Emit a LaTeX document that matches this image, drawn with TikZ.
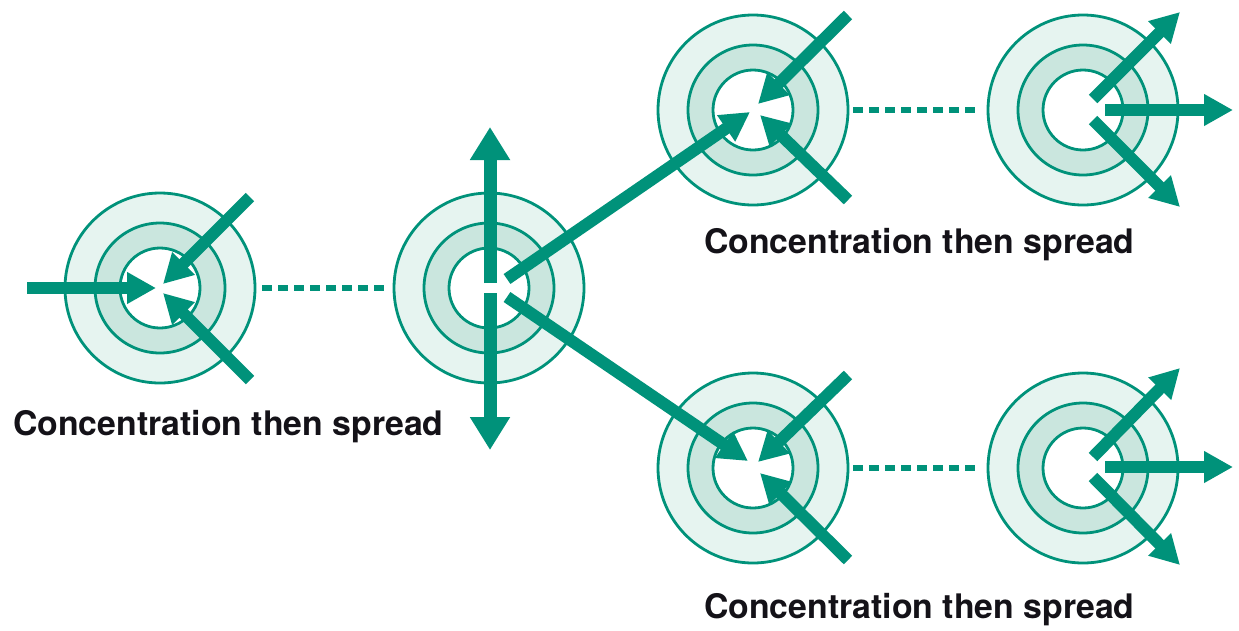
\documentclass[tikz,border=0pt]{standalone}
\usepackage{fontspec}
\setmainfont{TeX Gyre Heros}
\usetikzlibrary{arrows.meta}
\definecolor{teal}{RGB}{0,146,122}
\definecolor{ringlight}{RGB}{230,244,240}
\definecolor{ringmid}{RGB}{202,230,222}
\definecolor{txt}{RGB}{20,18,24}
\tikzset{
  ringouter/.style={circle,draw=teal,line width=2.8pt,fill=ringlight,minimum size=190pt,inner sep=0pt,outer sep=0pt},
  ringmiddle/.style={circle,draw=teal,line width=2.8pt,fill=ringmid,minimum size=130pt,inner sep=0pt,outer sep=0pt},
  ringinner/.style={circle,draw=teal,line width=2.8pt,fill=white,minimum size=80pt,inner sep=0pt,outer sep=0pt},
  bigarrow/.style={draw=teal,line width=12pt,-{Triangle[width=30pt,length=29pt]},color=teal},
  vertarrow/.style={draw=teal,line width=13pt,-{Triangle[width=38pt,length=33pt]},color=teal},
  dotlink/.style={draw=teal,line width=6.5pt,dash pattern=on 9.5pt off 6.5pt},
  caption/.style={anchor=base west,inner sep=0pt,text=txt,font=\fontsize{33.8pt}{40pt}\selectfont\bfseries}
}
\begin{document}
\begin{tikzpicture}[x=1pt,y=-1pt]
\useasboundingbox (0,0) rectangle (1239,630);
\foreach \n/\x/\y in {t1/160/288, t2/489/288, t3/753/110, t4/1083/110, t5/753/468, t6/1083/468}{
  \node[ringouter] (\n) at (\x,\y) {};
  \node[ringmiddle] (\n m) at (\x,\y) {};
  \node[ringinner] (\n i) at (\x,\y) {};
}
% dotted links
\draw[dotlink,shorten <=7pt,shorten >=9pt] (t1.east) -- (t2.west);
\draw[dotlink,shorten <=5pt,shorten >=8pt] (t3.east) -- (t4.west);
\draw[dotlink,shorten <=5pt,shorten >=8pt] (t5.east) -- (t6.west);
% coordinates for arrows
\coordinate (a1s) at (27,288);   \coordinate (a1e) at (156,288);
\coordinate (a2s) at (250,197);  \coordinate (a2e) at (163,284);
\coordinate (a3s) at (250,380);  \coordinate (a3e) at (163,293);
\coordinate (b1s) at (490,283);  \coordinate (b1e) at (490,127);
\coordinate (b2s) at (490,293);  \coordinate (b2e) at (490,450);
\coordinate (b3s) at (507,279);  \coordinate (b3e) at (750,112);
\coordinate (b4s) at (507,297);  \coordinate (b4e) at (748,461);
\coordinate (c1s) at (848,15);   \coordinate (c1e) at (758,104);
\coordinate (c2s) at (848,200);  \coordinate (c2e) at (760,115);
\coordinate (d1s) at (848,375);  \coordinate (d1e) at (758,462);
\coordinate (d2s) at (848,560);  \coordinate (d2e) at (760,473);
\coordinate (e1s) at (1093,99);  \coordinate (e1e) at (1180,12);
\coordinate (e2s) at (1105,110); \coordinate (e2e) at (1233,110);
\coordinate (e3s) at (1093,120); \coordinate (e3e) at (1180,207);
\coordinate (f1s) at (1093,457); \coordinate (f1e) at (1180,368);
\coordinate (f2s) at (1105,467); \coordinate (f2e) at (1233,467);
\coordinate (f3s) at (1093,477); \coordinate (f3e) at (1180,565);
% arrows
\draw[bigarrow] (a1s) -- (a1e);
\draw[bigarrow] (a2s) -- (a2e);
\draw[bigarrow] (a3s) -- (a3e);
\draw[vertarrow] (b1s) -- (b1e);
\draw[vertarrow] (b2s) -- (b2e);
\draw[bigarrow] (b3s) -- (b3e);
\draw[bigarrow] (b4s) -- (b4e);
\draw[bigarrow] (c1s) -- (c1e);
\draw[bigarrow] (c2s) -- (c2e);
\draw[bigarrow] (d1s) -- (d1e);
\draw[bigarrow] (d2s) -- (d2e);
\draw[bigarrow] (e1s) -- (e1e);
\draw[bigarrow] (e2s) -- (e2e);
\draw[bigarrow] (e3s) -- (e3e);
\draw[bigarrow] (f1s) -- (f1e);
\draw[bigarrow] (f2s) -- (f2e);
\draw[bigarrow] (f3s) -- (f3e);
% captions
\node[caption] (l1) at (13,435) {Concentration then spread};
\node[caption] (l2) at (704,253) {Concentration then spread};
\node[caption] (l3) at (704,618) {Concentration then spread};
\end{tikzpicture}
\end{document}
